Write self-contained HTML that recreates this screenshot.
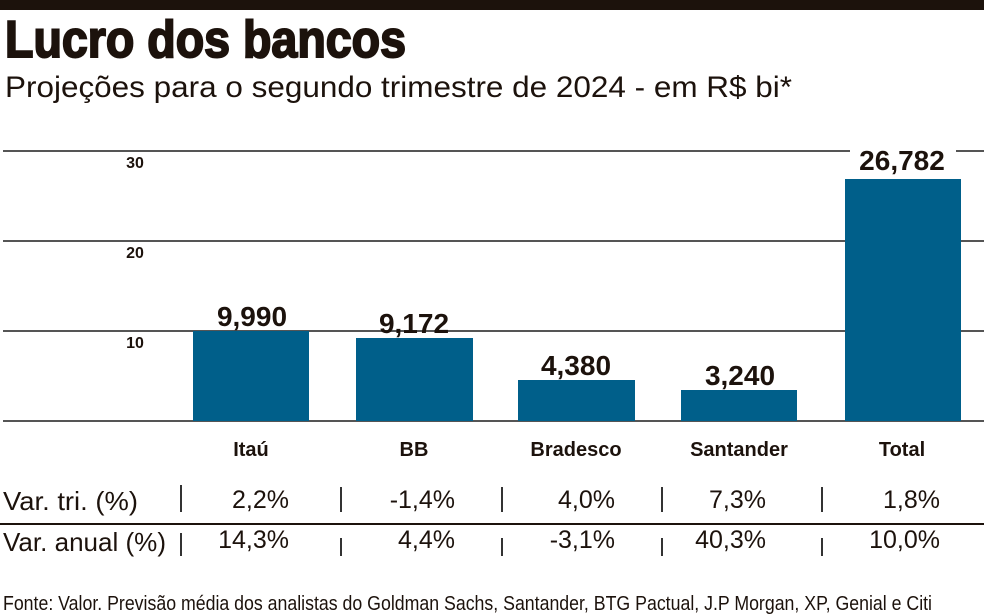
<!DOCTYPE html>
<html><head><meta charset="utf-8"><style>
html,body{margin:0;padding:0;background:#fff;}
svg{display:block;}
text{font-family:"Liberation Sans",sans-serif;fill:#1c120c;}
</style></head><body>
<svg width="984" height="614" viewBox="0 0 984 614" xmlns="http://www.w3.org/2000/svg">
<rect x="0" y="0" width="984" height="10" fill="#1c120c"/>
<text x="5" y="57" font-size="52" font-weight="bold" textLength="401" lengthAdjust="spacingAndGlyphs" style="stroke:#1c120c;stroke-width:2">Lucro dos bancos</text>
<text x="5" y="97" font-size="30" textLength="787" lengthAdjust="spacingAndGlyphs">Projeções para o segundo trimestre de 2024 - em R$ bi*</text>
<g stroke="#555" stroke-width="2">
<line x1="3" y1="151" x2="984" y2="151"/>
<line x1="3" y1="241" x2="984" y2="241"/>
<line x1="3" y1="331" x2="984" y2="331"/>
<line x1="3" y1="421" x2="984" y2="421"/>
</g>
<g font-size="16" font-weight="bold" text-anchor="middle">
<text x="135" y="168">30</text>
<text x="135" y="258">20</text>
<text x="135" y="348">10</text>
</g>
<g fill="#005f8a">
<rect x="193" y="331" width="116" height="90"/>
<rect x="356" y="338" width="117" height="83"/>
<rect x="518" y="380" width="117" height="41"/>
<rect x="681" y="390" width="116" height="31"/>
<rect x="845" y="179" width="116" height="242"/>
</g>
<rect x="850" y="140" width="106" height="20" fill="#fff"/>
<g font-size="28" font-weight="bold" text-anchor="middle">
<text x="252" y="326">9,990</text>
<text x="414" y="333">9,172</text>
<text x="576" y="375">4,380</text>
<text x="740" y="385">3,240</text>
<text x="902" y="170">26,782</text>
</g>
<g font-size="20" font-weight="bold" text-anchor="middle">
<text x="251" y="456">Itaú</text>
<text x="414" y="456">BB</text>
<text x="576" y="456">Bradesco</text>
<text x="739" y="456">Santander</text>
<text x="902" y="456">Total</text>
</g>
<text x="3" y="510" font-size="26" textLength="135" lengthAdjust="spacingAndGlyphs">Var. tri. (%)</text>
<text x="3" y="551" font-size="26" textLength="163" lengthAdjust="spacingAndGlyphs">Var. anual (%)</text>
<line x1="0" y1="524" x2="984" y2="524" stroke="#1c120c" stroke-width="2"/>
<g stroke="#333" stroke-width="2">
<line x1="181" y1="485" x2="181" y2="512"/><line x1="341" y1="487" x2="341" y2="512"/><line x1="502" y1="487" x2="502" y2="512"/><line x1="662" y1="487" x2="662" y2="512"/><line x1="822" y1="487" x2="822" y2="512"/>
<line x1="181" y1="533" x2="181" y2="556"/><line x1="341" y1="538" x2="341" y2="556"/><line x1="502" y1="538" x2="502" y2="556"/><line x1="662" y1="538" x2="662" y2="556"/><line x1="822" y1="538" x2="822" y2="556"/>
</g>
<g font-size="25" text-anchor="end">
<text x="289" y="508">2,2%</text>
<text x="455" y="508">-1,4%</text>
<text x="615" y="508">4,0%</text>
<text x="766" y="508">7,3%</text>
<text x="940" y="508">1,8%</text>
<text x="289" y="548">14,3%</text>
<text x="455" y="548">4,4%</text>
<text x="615" y="548">-3,1%</text>
<text x="766" y="548">40,3%</text>
<text x="940" y="548">10,0%</text>
</g>
<text x="3" y="610" font-size="20" textLength="929" lengthAdjust="spacingAndGlyphs">Fonte: Valor. Previsão média dos analistas do Goldman Sachs, Santander, BTG Pactual, J.P Morgan, XP, Genial e Citi</text>
</svg>
</body></html>
